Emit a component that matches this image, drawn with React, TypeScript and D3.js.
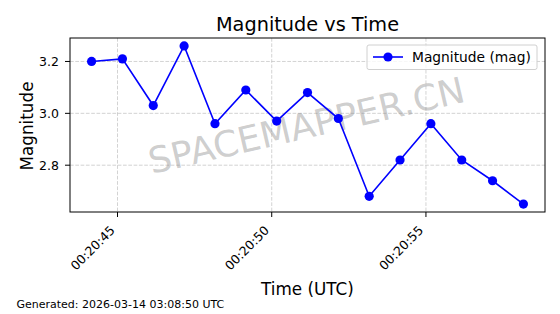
import React from "react";
import * as d3 from "d3";

const times = [
  "00:20:44.16", "00:20:45.16", "00:20:46.16", "00:20:47.16", "00:20:48.16",
  "00:20:49.16", "00:20:50.16", "00:20:51.16", "00:20:52.16", "00:20:53.16",
  "00:20:54.16", "00:20:55.16", "00:20:56.16", "00:20:57.16", "00:20:58.16",
];
const magnitudes = [3.2, 3.21, 3.03, 3.26, 2.96, 3.09, 2.97, 3.08, 2.98, 2.68, 2.82, 2.96, 2.82, 2.74, 2.65];
const xTickLabels = ["00:20:45", "00:20:50", "00:20:55"];
const yTicks = [2.8, 3.0, 3.2];

const toSec = (s: string) => {
  const [h, m, sec] = s.split(":");
  return +h * 3600 + +m * 60 + +sec;
};

export default function App() {
  const W = 560, H = 314;
  const L = 70, R = 545, T = 38, B = 212;
  const xs = times.map(toSec);
  const xMin = d3.min(xs)!, xMax = d3.max(xs)!;
  const xPad = (xMax - xMin) * 0.05;
  const yMin = d3.min(magnitudes)!, yMax = d3.max(magnitudes)!;
  const yPad = (yMax - yMin) * 0.05;
  const x = d3.scaleLinear().domain([xMin - xPad, xMax + xPad]).range([L, R]);
  const y = d3.scaleLinear().domain([yMin - yPad, yMax + yPad]).range([B, T]);
  const line = d3.line<number>().x((_, i) => x(xs[i])).y((d) => y(d));
  const font = "DejaVu Sans, sans-serif";
  const grid = { stroke: "#b0b0b0", strokeOpacity: 0.7, strokeDasharray: "3.7,1.6", strokeWidth: 0.8 };
  return (
    <svg width={W} height={H} style={{ position: "absolute", left: 0, top: 0, background: "#fff" }} fontFamily={font}>
      <rect x={0} y={0} width={W} height={H} fill="#fff" />
      <text x={(L + R) / 2} y={31} textAnchor="middle" fontSize={19.3}>Magnitude vs Time</text>
      {xTickLabels.map((t) => (
        <line key={t} x1={x(toSec(t))} x2={x(toSec(t))} y1={T} y2={B} {...grid} />
      ))}
      {yTicks.map((v) => (
        <line key={v} x1={L} x2={R} y1={y(v)} y2={y(v)} {...grid} />
      ))}
      <text x={307} y={128} textAnchor="middle" dominantBaseline="middle" fontSize={36} fill="#808080" fillOpacity={0.4} transform="rotate(-13 307 128)">SPACEMAPPER.CN</text>
      <path d={line(magnitudes) || ""} fill="none" stroke="#0000ff" strokeWidth={1.6} />
      {magnitudes.map((m, i) => (
        <circle key={i} cx={x(xs[i])} cy={y(m)} r={4.6} fill="#0000ff" />
      ))}
      <rect x={L} y={T} width={R - L} height={B - T} fill="none" stroke="#000" strokeWidth={1} />
      {xTickLabels.map((t) => {
        const px = x(toSec(t));
        const ax = px - 5, ay = B + 16;
        return (
          <g key={t}>
            <line x1={px} x2={px} y1={B} y2={B + 5} stroke="#000" />
            <text x={ax} y={ay} textAnchor="end" fontSize={12.5} dominantBaseline="central" transform={`rotate(-45 ${ax} ${ay})`}>{t}</text>
          </g>
        );
      })}
      {yTicks.map((v) => (
        <g key={v}>
          <line x1={L - 5} x2={L} y1={y(v)} y2={y(v)} stroke="#000" />
          <text x={L - 11} y={y(v)} textAnchor="end" dominantBaseline="central" fontSize={12.5}>{v.toFixed(1)}</text>
        </g>
      ))}
      <text x={(L + R) / 2} y={295} textAnchor="middle" fontSize={16.8}>Time (UTC)</text>
      <text transform={`translate(33 126) rotate(-90)`} textAnchor="middle" fontSize={16.8}>Magnitude</text>
      <rect x={367} y={45} width={170} height={24.5} rx={2} fill="#fff" fillOpacity={0.8} stroke="#d0d0d0" />
      <line x1={373} x2={403} y1={57} y2={57} stroke="#0000ff" strokeWidth={1.6} />
      <circle cx={388} cy={57} r={4.6} fill="#0000ff" />
      <text x={412} y={57} dominantBaseline="central" fontSize={13.8}>Magnitude (mag)</text>
      <text x={16.5} y={308} fontSize={11}>Generated: 2026-03-14 03:08:50 UTC</text>
    </svg>
  );
}
